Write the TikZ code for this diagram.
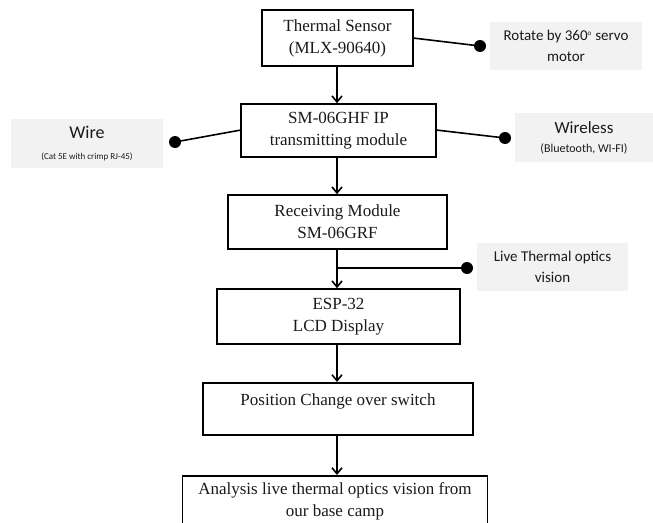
\documentclass[tikz,border=0pt]{standalone}
\usepackage{fontspec}
\setmainfont{Liberation Serif}
\newfontfamily\calib{Carlito}
\usetikzlibrary{arrows.meta}
\definecolor{notegray}{HTML}{F2F2F2}
\definecolor{inkc}{HTML}{1A1A1A}
\tikzset{
  flowbox/.style={draw=black, line width=1.6pt, fill=white, align=center, inner sep=2pt,
    font=\fontsize{17}{22}\selectfont, text=inkc},
  notebox/.style={fill=notegray, align=center, inner sep=2pt,
    font=\calib\fontsize{15}{21}\selectfont, text=inkc},
  link/.style={line width=1.6pt},
  flowarrow/.style={line width=1.6pt, -{Straight Barb[length=6pt,width=10pt,line width=1.6pt]}},
  dotc/.style={circle, fill=black, inner sep=0pt, minimum size=12pt}
}
\begin{document}
\begin{tikzpicture}[x=1pt,y=-1pt]
\useasboundingbox (0,0) rectangle (653,522);
\begin{scope}
\clip (0,0) rectangle (653,522);
% main boxes
\node[flowbox, minimum width=151pt, minimum height=56pt] (b1) at (337.5,38) {Thermal Sensor\\(MLX-90640)};
\node[flowbox, minimum width=195pt, minimum height=53pt] (b2) at (338.5,130.5) {SM-06GHF IP\\transmitting module};
\node[flowbox, minimum width=219pt, minimum height=54pt] (b3) at (337.5,222) {Receiving Module\\SM-06GRF};
\node[flowbox, minimum width=243pt, minimum height=55pt] (b4) at (338.5,316.5) {ESP-32\\LCD Display};
\node[flowbox, minimum width=270pt, minimum height=52pt, anchor=north] (b5) at (338,382) {\raisebox{0pt}[0pt][6pt]{Position Change over switch}};
\node[flowbox, minimum width=305pt, minimum height=70pt, anchor=north] (b6) at (335,475) {\rule{0pt}{17pt}Analysis live thermal optics vision from\\our base camp\\[6pt]\mbox{}};
% note boxes
\node[notebox, minimum width=152pt, minimum height=48pt] (n1) at (566,46) {Rotate by 360\textsuperscript{\fontsize{7}{7}\selectfont o} servo\\motor};
\node[notebox, minimum width=152pt, minimum height=49pt] (n2) at (87,143.5) {{\fontsize{18}{22}\selectfont Wire}\\[0pt]{\fontsize{9}{11}\selectfont (Cat 5E with crimp RJ-45)}};
\node[notebox, minimum width=138pt, minimum height=49pt] (n3) at (584,137.5) {{\fontsize{17}{20}\selectfont Wireless}\\[-2pt]{\fontsize{12}{13}\selectfont (Bluetooth, WI-FI)}};
\node[notebox, minimum width=151pt, minimum height=48pt] (n4) at (552.5,267) {Live Thermal optics\\vision};
% dots
\node[dotc] (d1) at (480,46) {};
\node[dotc] (d2) at (175,142) {};
\node[dotc] (d3) at (505,138) {};
\node[dotc] (d4) at (467,268) {};
% side links
\coordinate (s1) at (413,38);
\coordinate (s2) at (241,130);
\coordinate (s3) at (436,130);
\coordinate (j4) at (337,268);
\draw[link] (s1) -- (d1.center);
\draw[link] (s2) -- (d2.center);
\draw[link] (s3) -- (d3.center);
\draw[link] (j4) -- (d4.center);
% flow arrows
\coordinate (t1) at (337,66);
\coordinate (t2) at (337,157);
\coordinate (t3) at (337,249);
\coordinate (t4) at (337,344);
\coordinate (t5) at (337,434);
\draw[flowarrow] (t1) -- (t1 |- b2.north);
\draw[flowarrow] (t2) -- (t2 |- b3.north);
\draw[flowarrow] (t3) -- (t3 |- b4.north);
\draw[flowarrow] (t4) -- (t4 |- b5.north);
\draw[flowarrow] (t5) -- (t5 |- b6.north);
\end{scope}
\end{tikzpicture}
\end{document}
